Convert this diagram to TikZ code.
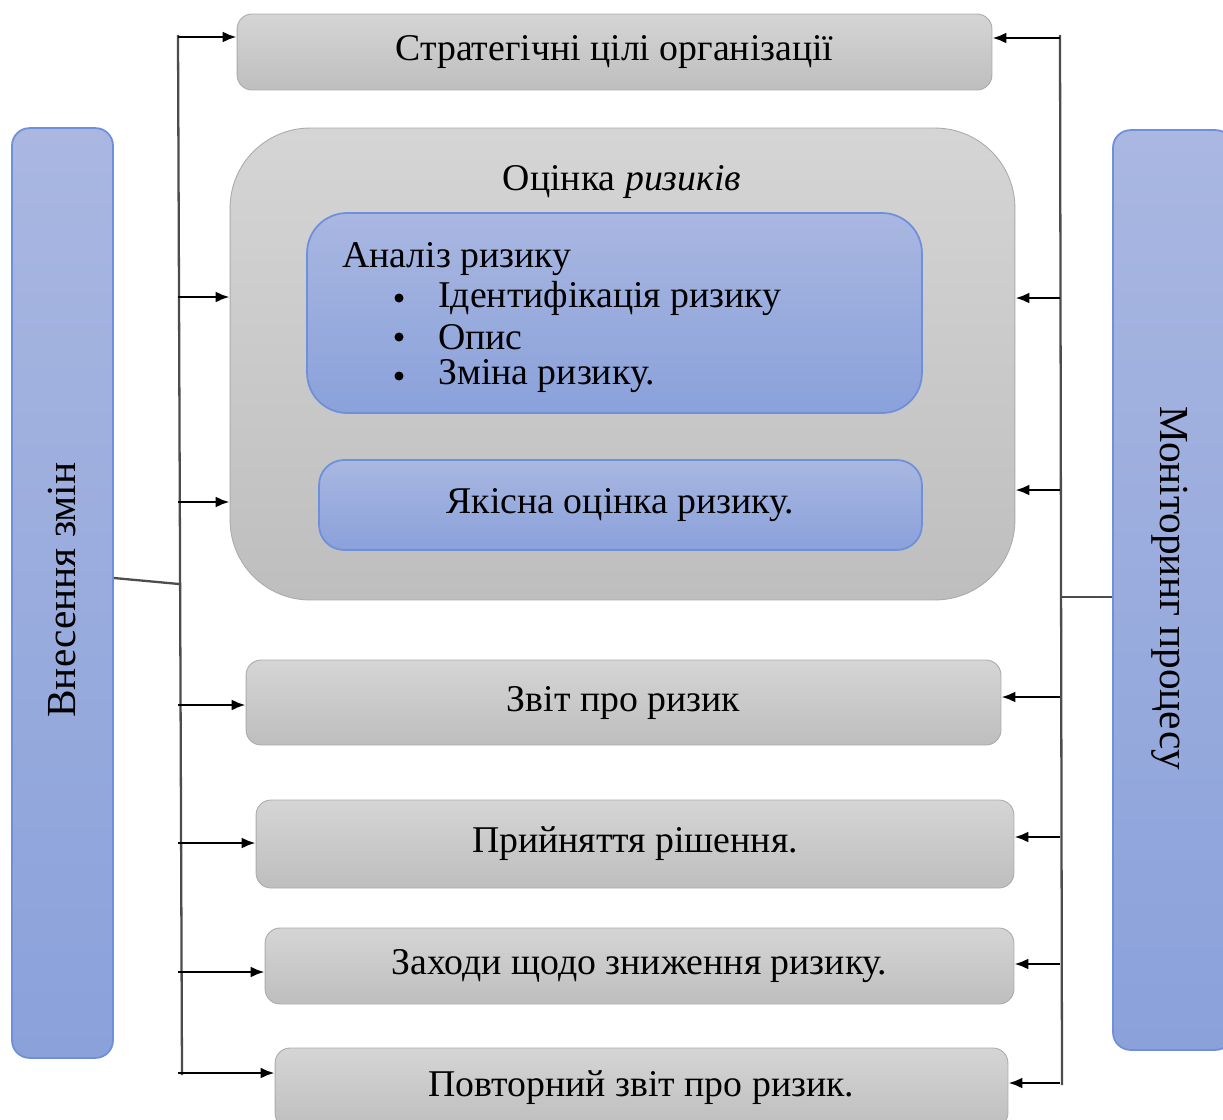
\documentclass[tikz,border=0pt]{standalone}
\usepackage{fontspec}
\setmainfont{Liberation Serif}
\usepackage{xcolor}
\usetikzlibrary{arrows.meta}

\definecolor{greytop}{HTML}{D5D5D5}
\definecolor{greybot}{HTML}{BEBEBE}
\definecolor{bluetop}{HTML}{A9B7E1}
\definecolor{bluebot}{HTML}{8AA1DA}
\definecolor{blueline}{HTML}{6E8FDA}

\tikzset{
	greybox/.style={draw=greybot!90!black, line width=0.5pt, rounded corners=0.3cm, top color=greytop, bottom color=greybot, inner sep=0pt, font=\fontsize{21.5}{25}\selectfont},
	bluebox/.style={draw=blueline, line width=1pt, top color=bluetop, bottom color=bluebot, inner sep=0pt, font=\fontsize{21.5}{25}\selectfont},
	bus/.style={draw=black!70, line width=1.3pt},
	arr/.style={-{Latex[length=0.28cm,width=0.22cm]}, line width=1.5pt, black}
}

\begin{document}
\begin{tikzpicture}[x=0.02cm, y=-0.02cm]
	\useasboundingbox (0,0) rectangle (1223,1119);
	\clip (0,0) rectangle (1223,1119);
	%
	\node [greybox, minimum width=15.1cm, minimum height=1.52cm] (strat) at (614.5,52) {Стратегічні цілі організації};
	\node [greybox, rounded corners=1.6cm, minimum width=15.7cm, minimum height=9.44cm] (outer) at (622.5,364) {};
	\node [font=\fontsize{21.5}{25}\selectfont] (outtitle) at (622,182) {Оцінка \textit{ризиків}};
	\node [bluebox, rounded corners=0.8cm, minimum width=12.3cm, minimum height=4cm] (anal) at (614.5,313) {};
	\node [anchor=west, font=\fontsize{21.5}{25}\selectfont] (antitle) at (336,259) {Аналіз ризику};
	\foreach \t [count=\i] in {Ідентифікація ризику, Опис, Зміна ризику.}{
		\fill [black] (399,{259+\i*39}) circle (0.09cm);
		\node [anchor=west, font=\fontsize{21.5}{25}\selectfont] (item\i) at (432,{259+\i*39}) {\t};
	}
	\node [bluebox, rounded corners=0.5cm, minimum width=12.06cm, minimum height=1.8cm] (yak) at (620.5,505) {Якісна оцінка ризику.};
	\node [greybox, minimum width=15.1cm, minimum height=1.7cm] (zvit) at (623.5,702.5) {Звіт про ризик};
	\node [greybox, minimum width=15.16cm, minimum height=1.76cm] (rish) at (635,844) {Прийняття рішення.};
	\node [greybox, minimum width=14.98cm, minimum height=1.52cm] (zakh) at (639.5,966) {Заходи щодо зниження ризику.};
	\node [greybox, minimum width=14.66cm, minimum height=1.6cm] (povt) at (641.5,1088) {Повторний звіт про ризик.};
	%
	\node [bluebox, rounded corners=0.35cm, minimum width=2.02cm, minimum height=18.6cm] (zminy) at (62.5,593) {};
	\node [rotate=90, font=\fontsize{23.5}{27}\selectfont] (zminytxt) at (62,590) {Внесення змін};
	\node [bluebox, rounded corners=0.35cm, minimum width=2.4cm, minimum height=18.4cm] (monit) at (1173,590) {};
	\node [rotate=-90, font=\fontsize{23.5}{27}\selectfont] (monittxt) at (1170,588) {Моніторинг процесу};
	%
	\coordinate (ltop) at (178,35);
	\coordinate (lbot) at (182,1075);
	\coordinate (ljoin) at (179,584);
	\coordinate (rtop) at (1060,35);
	\coordinate (rbot) at (1062,1085);
	\coordinate (rjoin) at (1061,597);
	\draw [bus] (ltop) -- (lbot);
	\draw [bus] (zminy.east |- 0,578) -- (ljoin);
	\draw [bus] (rtop) -- (rbot);
	\draw [bus] (monit.west |- rjoin) -- (rjoin);
	%
	\foreach \y/\b in {37/strat, 297/outer, 502/outer, 705/zvit, 843/rish, 972/zakh, 1073/povt}
		\draw [arr] (ltop |- 0,\y) -- (\b.west |- 0,\y);
	\foreach \y/\b in {38/strat, 298/outer, 490/outer, 697/zvit, 837/rish, 964/zakh, 1083/povt}
		\draw [arr] (rtop |- 0,\y) -- (\b.east |- 0,\y);
\end{tikzpicture}
\end{document}
